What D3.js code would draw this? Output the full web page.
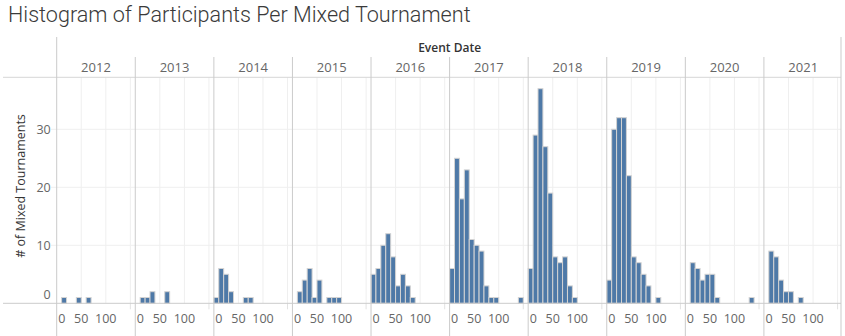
<!DOCTYPE html>
<html>
<head>
<meta charset="utf-8">
<script src="https://cdn.jsdelivr.net/npm/d3@7"></script>
<style>
  html, body { margin: 0; padding: 0; background: #fff; }
  svg { display: block; }
  text { font-family: "Open Sans", "Noto Sans", sans-serif; }
</style>
</head>
<body>
<svg id="chart" width="845" height="336"></svg>
<script>
// Event years shown as column panels
const years = ["2012", "2013", "2014", "2015", "2016", "2017", "2018", "2019", "2020", "2021"];

// Histogram bins: participants per tournament, bin size 10
const binStarts = [0, 10, 20, 30, 40, 50, 60, 70, 80, 90, 100, 110, 120, 130, 140];
const binSize = 10;

// Number of mixed tournaments in each bin, per year
const counts2012 = [0, 1, 0, 0, 1, 0, 1, 0, 0, 0, 0, 0, 0, 0, 0];
const counts2013 = [0, 1, 1, 2, 0, 0, 2, 0, 0, 0, 0, 0, 0, 0, 0];
const counts2014 = [1, 6, 5, 2, 0, 0, 1, 1, 0, 0, 0, 0, 0, 0, 0];
const counts2015 = [0, 2, 4, 6, 1, 4, 0, 1, 1, 1, 0, 0, 0, 0, 0];
const counts2016 = [5, 6, 10, 12, 8, 3, 5, 3, 1, 0, 0, 0, 0, 0, 0];
const counts2017 = [6, 25, 18, 23, 11, 10, 9, 3, 1, 1, 0, 0, 0, 0, 1];
const counts2018 = [6, 29, 37, 27, 19, 8, 7, 8, 3, 1, 0, 0, 0, 0, 0];
const counts2019 = [4, 30, 32, 32, 22, 8, 7, 5, 3, 0, 1, 0, 0, 0, 0];
const counts2020 = [0, 7, 6, 4, 5, 5, 1, 0, 0, 0, 0, 0, 0, 1, 0];
const counts2021 = [0, 9, 8, 4, 2, 2, 0, 1, 0, 0, 0, 0, 0, 0, 0];

// Axis ticks
const xTicks = [0, 50, 100];
const xGridTicks = [50, 100, 150];
const yTicks = [0, 10, 20, 30];

const countsByYear = new Map([
  ["2012", counts2012], ["2013", counts2013], ["2014", counts2014],
  ["2015", counts2015], ["2016", counts2016], ["2017", counts2017],
  ["2018", counts2018], ["2019", counts2019], ["2020", counts2020],
  ["2021", counts2021]
]);

const rows = [];
years.forEach(yr => {
  countsByYear.get(yr).forEach((c, i) => {
    if (c > 0) rows.push({ year: yr, bin: binStarts[i], count: c });
  });
});

// Layout
const plotLeft = 56.7, plotRight = 842.5;
const headerTop = 37, yearRowTop = 57, headerLine = 77.3, baseline = 303.3;
const svgH = 336;
const lineColor = "#cbcbcb", gridColor = "#efefef";

const svg = d3.select("#chart");

const panel = d3.scaleBand().domain(years).range([plotLeft, plotRight]).paddingInner(0).paddingOuter(0);
const xIn = d3.scaleLinear().domain([0, 160]).range([0, panel.bandwidth()]);
const y = d3.scaleLinear().domain([0, 39]).range([baseline, headerLine - 0.2]);

// Title
svg.append("text")
  .attr("x", 8).attr("y", 22)
  .style("font-family", "Roboto, 'Open Sans', sans-serif")
  .style("font-weight", 300)
  .style("font-size", "21.6px")
  .style("fill", "#3a3a3a")
  .text("Histogram of Participants Per Mixed Tournament");

// Horizontal gridlines
svg.append("g").selectAll("line")
  .data(yTicks.filter(t => t > 0))
  .join("line")
  .attr("x1", 51).attr("x2", plotRight - 1.5)
  .attr("y1", d => y(d)).attr("y2", d => y(d))
  .attr("stroke", gridColor).attr("stroke-width", 1);

// Vertical gridlines inside each panel
const panels = svg.append("g").selectAll("g")
  .data(years)
  .join("g")
  .attr("transform", d => `translate(${panel(d)},0)`);

panels.selectAll("line.vgrid")
  .data(xGridTicks)
  .join("line")
  .attr("class", "vgrid")
  .attr("x1", d => xIn(d)).attr("x2", d => xIn(d))
  .attr("y1", headerLine).attr("y2", baseline)
  .attr("stroke", gridColor).attr("stroke-width", 1);

// small tick at the last gridline under the baseline
panels.append("line")
  .attr("x1", xIn(150)).attr("x2", xIn(150))
  .attr("y1", baseline).attr("y2", baseline + 6)
  .attr("stroke", "#e2e2e2").attr("stroke-width", 1);

// Bars
svg.append("g").selectAll("rect")
  .data(rows)
  .join("rect")
  .attr("x", d => panel(d.year) + xIn(d.bin))
  .attr("width", xIn(binSize))
  .attr("y", d => y(d.count))
  .attr("height", d => baseline - y(d.count))
  .attr("fill", "#4e79a7")
  .attr("stroke", "#d3d3d3")
  .attr("stroke-width", 1);

// Header lines and panel separators
svg.append("line")
  .attr("x1", 3).attr("x2", plotRight - 1.5)
  .attr("y1", headerLine).attr("y2", headerLine)
  .attr("stroke", "#d6d6d6");
svg.append("line")
  .attr("x1", 3).attr("x2", plotRight - 1.5)
  .attr("y1", baseline).attr("y2", baseline)
  .attr("stroke", lineColor);

svg.append("g").selectAll("line")
  .data(years.slice(1))
  .join("line")
  .attr("x1", d => panel(d)).attr("x2", d => panel(d))
  .attr("y1", yearRowTop).attr("y2", svgH)
  .attr("stroke", lineColor);

svg.append("line")
  .attr("x1", plotLeft).attr("x2", plotLeft)
  .attr("y1", headerTop).attr("y2", svgH)
  .attr("stroke", lineColor);
svg.append("line")
  .attr("x1", plotRight - 1.5).attr("x2", plotRight - 1.5)
  .attr("y1", headerTop).attr("y2", svgH)
  .attr("stroke", lineColor);

// Column header
svg.append("text")
  .attr("x", (plotLeft + plotRight) / 2).attr("y", 52)
  .attr("text-anchor", "middle")
  .style("font-size", "12px")
  .style("font-weight", 600)
  .style("fill", "#333")
  .text("Event Date");

svg.append("g").selectAll("text")
  .data(years)
  .join("text")
  .attr("x", d => panel(d) + panel.bandwidth() / 2)
  .attr("y", 72.3)
  .attr("text-anchor", "middle")
  .style("font-size", "13px")
  .style("fill", "#666")
  .text(d => d);

// X axis labels per panel
panels.selectAll("text.xt")
  .data(xTicks)
  .join("text")
  .attr("class", "xt")
  .attr("x", d => d === 0 ? xIn(d) + 1.5 : xIn(d))
  .attr("y", 322.5)
  .attr("text-anchor", d => d === 0 ? "start" : "middle")
  .style("font-size", "12.5px")
  .style("fill", "#666")
  .text(d => d);

// Y axis
const yAxis = svg.append("g")
  .attr("transform", `translate(${plotLeft - 6},0)`)
  .call(d3.axisLeft(y).tickValues(yTicks).tickSize(0).tickPadding(0));
yAxis.select(".domain").remove();
yAxis.selectAll("text")
  .style("font-size", "12.5px")
  .style("font-family", "'Open Sans', 'Noto Sans', sans-serif")
  .style("fill", "#666")
  .attr("dy", d => d === 0 ? "-0.4em" : "0.32em");

svg.append("text")
  .attr("transform", `translate(25,186) rotate(-90)`)
  .attr("text-anchor", "middle")
  .style("font-size", "12.5px")
  .style("fill", "#333")
  .text("# of Mixed Tournaments");
</script>
</body>
</html>
